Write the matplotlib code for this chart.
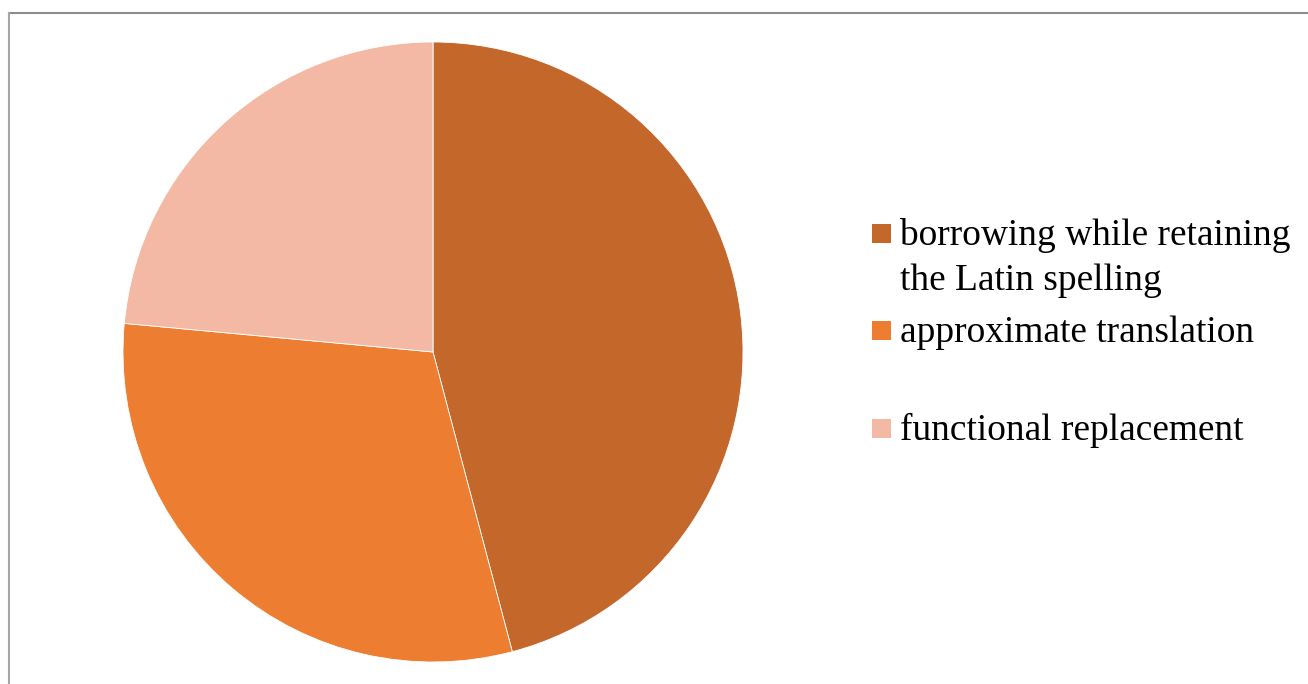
import matplotlib.pyplot as plt
from matplotlib.patches import Rectangle
from matplotlib.lines import Line2D

categories = ["borrowing while retaining\nthe Latin spelling",
              "approximate translation",
              "functional replacement"]
counts = [39, 26, 20]
colors = ["#C4672A", "#ED7D31", "#F4B9A5"]

W, H = 1308, 684
fig = plt.figure(figsize=(W / 100, H / 100), dpi=100)

# pie: centre (433, 352), radius 310 px
ax = fig.add_axes([(433 - 310) / W, (H - 352 - 310) / H, 620 / W, 620 / H])
ax.pie(counts, colors=colors, startangle=90, counterclock=False,
       radius=1.0, wedgeprops=dict(edgecolor="white", linewidth=0.6))
ax.set_xlim(-1, 1)
ax.set_ylim(-1, 1)
ax.set_aspect("equal")
ax.axis("off")

# chart frame (top and left edges visible)
fig.add_artist(Line2D([8.5 / W, 1], [1 - 12.5 / H, 1 - 12.5 / H],
                      transform=fig.transFigure, color="#8c8c8c", lw=1.5))
fig.add_artist(Line2D([8.5 / W, 8.5 / W], [0, 1 - 12.5 / H],
                      transform=fig.transFigure, color="#a6a6a6", lw=1.5))

# legend drawn by hand to keep the uneven spacing
baselines = [245, 342, 440]
for lab, col, yb in zip(categories, colors, baselines):
    fig.add_artist(Rectangle((872 / W, 1 - (yb - 2) / H), 19 / W, 19 / H,
                             transform=fig.transFigure, facecolor=col,
                             edgecolor="none"))
    for i, line in enumerate(lab.split("\n")):
        fig.text(900 / W, 1 - (yb + 45 * i) / H, line, ha="left",
                 va="baseline", family="Liberation Serif", fontsize=26.9)

fig.savefig("out.png", dpi=100)
